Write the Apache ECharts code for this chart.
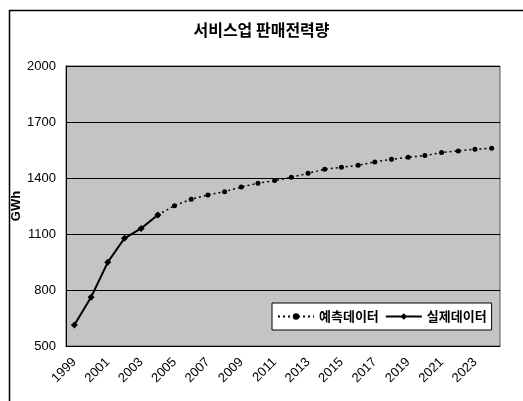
<!DOCTYPE html>
<html><head><meta charset="utf-8">
<script src="https://cdn.jsdelivr.net/npm/echarts@6/dist/echarts.min.js"></script>
<style>html,body{margin:0;padding:0;background:#fff}#c{width:523px;height:401px}</style>
</head><body><div id="c"></div>
<script>
const years = ['1999','2000','2001','2002','2003','2004','2005','2006','2007','2008','2009','2010','2011','2012','2013','2014','2015','2016','2017','2018','2019','2020','2021','2022','2023','2024'];
const actual = [612, 761, 948, 1077, 1130, 1202, null, null, null, null, null, null, null, null, null, null, null, null, null, null, null, null, null, null, null, null];
const forecast = [null, null, null, null, null, 1202, 1252, 1286, 1309, 1327, 1352, 1372, 1386, 1404, 1425, 1447, 1457, 1468, 1486, 1500, 1511, 1520, 1536, 1545, 1554, 1559];
const titleText = '서비스업 판매전력량';
const yName = 'GWh';
const forecastName = '예측데이터';
const actualName = '실제데이터';

const chart = echarts.init(document.getElementById('c'));
const numFont = '"Liberation Sans", Arial, sans-serif';
const krFont = '"Noto Sans CJK KR", sans-serif';
chart.setOption({
  animation: false,
  backgroundColor: '#fff',
  title: { text: titleText, left: 'center', top: 17, textStyle: { fontFamily: krFont, fontSize: 16, fontWeight: 'bold', color: '#000' } },
  graphic: [
    { type: 'rect', left: 7, top: 8, shape: { width: 540, height: 420 }, style: { fill: null, stroke: '#000', lineWidth: 1.5 }, silent: true },
    { type: 'text', x: 16, y: 206, rotation: Math.PI / 2, style: { text: yName, font: 'bold 13px "Liberation Sans", Arial, sans-serif', fill: '#000', align: 'center', verticalAlign: 'middle' }, silent: true }
  ],
  grid: { left: 66, top: 66, right: 23, bottom: 55, outerBoundsMode: 'none', containLabel: false, show: true, backgroundColor: '#c4c4c4', borderColor: '#555', borderWidth: 1 },
  legend: {
    left: 272, top: 303, width: 216, height: 30,
    backgroundColor: '#fff', borderColor: '#000', borderWidth: 1, padding: [7, 5, 7, 5],
    itemWidth: 36, itemHeight: 8, itemGap: 6,
    textStyle: { fontFamily: krFont, fontSize: 13, color: '#000', fontWeight: 'bold' },
    data: [forecastName, actualName]
  },
  xAxis: {
    type: 'category', data: years, boundaryGap: true,
    axisLine: { lineStyle: { color: '#000' } },
    axisTick: { inside: true, length: 3, lineStyle: { color: '#000' }, interval: 0 },
    axisLabel: { interval: 1, rotate: 45, fontFamily: numFont, fontSize: 13, color: '#000', margin: 14 }
  },
  yAxis: {
    type: 'value', min: 500, max: 2000, interval: 300,
    axisLine: { show: true, lineStyle: { color: '#000' } },
    axisTick: { show: false },
    axisLabel: { fontFamily: numFont, fontSize: 13, color: '#000', margin: 10, formatter: v => String(v) },
    splitLine: { lineStyle: { color: '#000', width: 1 } }
  },
  series: [
    { name: forecastName, type: 'line', data: forecast, symbol: 'circle', symbolSize: 5,
      itemStyle: { color: '#000' }, lineStyle: { color: '#000', width: 1.5, type: [2, 3] }, z: 3 },
    { name: actualName, type: 'line', data: actual, symbol: 'diamond', symbolSize: 7,
      itemStyle: { color: '#000' }, lineStyle: { color: '#000', width: 2 }, z: 4 }
  ]
});
</script></body></html>
